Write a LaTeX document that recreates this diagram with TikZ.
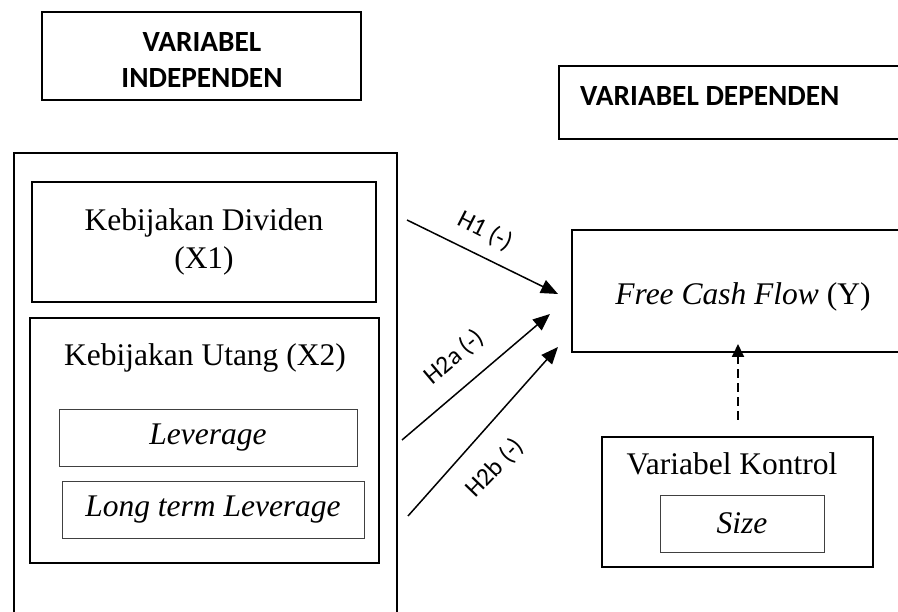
\documentclass[tikz,border=0pt]{standalone}
\usepackage{fontspec}
\setmainfont{Liberation Serif}
\newfontfamily\calfont{Carlito}
\usetikzlibrary{arrows.meta}
\tikzset{
  box/.style={draw, line width=1.3pt, rectangle, inner sep=0pt},
  inbox/.style={draw=black!75, line width=0.9pt, rectangle, inner sep=0pt},
  head/.style={font=\calfont\bfseries\fontsize{29.3}{35.5}\selectfont, align=center},
  serif/.style={font=\fontsize{31.5}{38}\selectfont, align=center},
  hyp/.style={-{Triangle[length=17pt,width=14pt]}, line width=1.5pt},
  lab/.style={font=\calfont\fontsize{25.5}{30}\selectfont, inner sep=0pt}
}
\begin{document}
\begin{tikzpicture}[x=1pt,y=-1pt]
\useasboundingbox (0,0) rectangle (898,612);
\clip (0,0) rectangle (898,612);
% top headers
\node[box, minimum width=319pt, minimum height=88pt] (vi) at (201.5,56) {};
\node[head] (vit) at (202,60) {VARIABEL\\INDEPENDEN};
\draw[box] (559,66) rectangle (940,139);
\node[head, anchor=west, inner sep=0pt] (vd) at (580,96) {VARIABEL DEPENDEN};
% left big box
\draw[box] (14,153) rectangle (397,640);
\node[box, serif, minimum width=344pt, minimum height=120pt] (div) at (204,242) {Kebijakan Dividen\\(X1)};
\node[box, minimum width=349pt, minimum height=245pt] (utg) at (204.5,440.5) {};
\node[serif, anchor=base] (utgt) at (205,366) {Kebijakan Utang (X2)};
\node[inbox, serif, minimum width=298pt, minimum height=57pt] (lev) at (208,437.5) {\itshape Leverage};
\node[inbox, serif, minimum width=302pt, minimum height=57pt] (ltl) at (213,509.5) {\itshape Long term Leverage};
% right side
\draw[box] (572,230) rectangle (940,352);
\node[serif] (fcf) at (743,297) {\itshape Free Cash Flow\/ \upshape(Y)};
\node[box, minimum width=271pt, minimum height=130pt] (ktr) at (737.5,502) {};
\node[serif, anchor=base] (ktrt) at (732,475) {Variabel Kontrol};
\node[inbox, serif, minimum width=164pt, minimum height=57pt] (size) at (742,523.5) {\itshape Size};
% arrows
\coordinate (a1s) at (407,220);
\coordinate (a1e) at (558,294);
\coordinate (a2s) at (402,440);
\coordinate (a2e) at (550,314);
\coordinate (a3s) at (408,516);
\coordinate (a3e) at (558,347);
\draw[hyp] (a1s) -- (a1e);
\draw[hyp] (a2s) -- (a2e);
\draw[hyp] (a3s) -- (a3e);
\node[lab, rotate=-27] (l1) at (485,231) {H1 (-)};
\node[lab, rotate=40] (l2) at (454,357) {H2a (-)};
\node[lab, rotate=46] (l3) at (495,468) {H2b (-)};
% dashed control arrow
\coordinate (ds) at (738,420);
\coordinate (de) at (738,344);
\draw[line width=1.8pt, dash pattern=on 9pt off 5pt, -{Triangle[length=13pt,width=12pt]}] (ds) -- (de);
\end{tikzpicture}
\end{document}
